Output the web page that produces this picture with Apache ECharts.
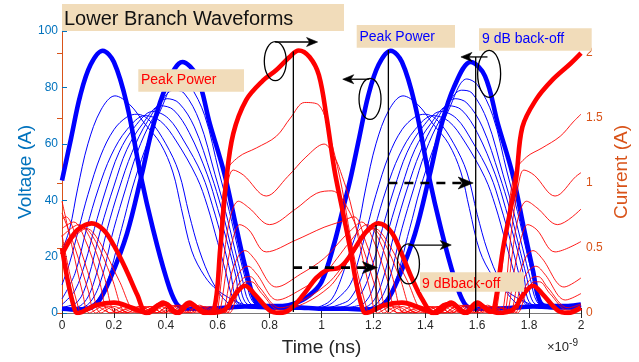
<!DOCTYPE html>
<html>
<head>
<meta charset="utf-8">
<script src="https://cdn.jsdelivr.net/npm/echarts@6/dist/echarts.min.js"></script>
<style>
  html, body { margin: 0; padding: 0; background: #ffffff; }
  #chart { width: 639px; height: 362px; }
</style>
</head>
<body>
<div id="chart"></div>
<script>
// ---- axes ---------------------------------------------------------------
// time is stored in ns; the axis carries the x10^-9 factor as a note
const timeTicks = [0, 0.2, 0.4, 0.6, 0.8, 1, 1.2, 1.4, 1.6, 1.8, 2];
const voltageTicks = [0, 20, 40, 60, 80, 100];
const currentTicks = [0, 0.5, 1, 1.5, 2];

// ---- drain voltage (left axis), [time ns, V] ------------------------------
const voltagePeak = [[0,47],[0.035,62],[0.07,77],[0.11,88],[0.157,93],[0.2,89],[0.25,74],[0.305,48],[0.35,30],[0.4,13],[0.44,3.5],[0.48,1.5],[0.55,1.5],[0.65,2],[0.75,2.5],[0.85,2.5],[0.9,3.5],[0.95,6],[1.0,11],[1.05,25],[1.08,36],[1.11,47],[1.145,62],[1.18,77],[1.22,88],[1.267,93],[1.31,89],[1.36,74],[1.415,48],[1.46,30],[1.51,13],[1.55,3.5],[1.59,1.5],[1.66,1.5],[1.76,2],[1.86,2.5],[1.95,2.5],[2.0,3]];

const voltageBackoff = [[0,1.5],[0.06,1.2],[0.1,1.5],[0.14,4],[0.185,12],[0.25,28],[0.307,49],[0.35,66],[0.4,80],[0.464,89],[0.52,84],[0.57,67],[0.627,49],[0.67,31],[0.71,15],[0.75,3.5],[0.8,2],[0.9,2],[1.0,1.5],[1.1,1.5],[1.17,1.2],[1.21,1.5],[1.25,4],[1.295,12],[1.36,28],[1.417,49],[1.46,66],[1.51,80],[1.575,89],[1.63,84],[1.68,67],[1.737,49],[1.78,30],[1.815,15],[1.845,3.5],[1.9,2],[2.0,2.5]];

// intermediate drive levels between peak power and 9 dB back-off
const voltageSweep = [
  [[0,22],[0.03,30],[0.06,44],[0.1,60],[0.15,72],[0.204,77],[0.26,74],[0.32,67],[0.38,60],[0.427,50],[0.46,37],[0.5,22],[0.55,13],[0.6,8],[0.685,3.5],[0.75,2],[0.85,1.5],[0.95,1.5],[1.0,2.5],[1.04,5],[1.075,12],[1.11,22],[1.14,30],[1.17,44],[1.21,60],[1.26,72],[1.314,77],[1.37,74],[1.43,67],[1.49,60],[1.537,50],[1.57,37],[1.61,22],[1.66,13],[1.71,8],[1.795,3.5],[1.86,2],[1.95,1.5],[2.0,1.5]],
  [[0,10],[0.03,18],[0.065,30],[0.1,42],[0.15,56],[0.2,65],[0.25,69.5],[0.29,70.5],[0.34,68],[0.4,60],[0.45,50],[0.49,35],[0.53,22],[0.58,11],[0.64,3.5],[0.7,2],[0.8,1.5],[0.95,1.5],[1.02,2.5],[1.06,5],[1.11,10],[1.14,18],[1.175,30],[1.21,42],[1.26,56],[1.31,65],[1.36,69.5],[1.4,70.5],[1.45,68],[1.51,60],[1.56,50],[1.6,35],[1.64,22],[1.69,11],[1.75,3.5],[1.81,2],[1.9,1.5],[2.0,1.5]],
  [[0,5],[0.05,14],[0.095,30],[0.14,44],[0.19,56],[0.25,65],[0.32,70],[0.38,68],[0.44,61],[0.52,48],[0.56,38],[0.6,25],[0.63,15],[0.66,5],[0.7,2],[0.8,1.5],[0.95,1.5],[1.03,2],[1.07,3],[1.11,5],[1.16,14],[1.205,30],[1.25,44],[1.3,56],[1.36,65],[1.43,70],[1.49,68],[1.55,61],[1.63,48],[1.67,38],[1.71,25],[1.74,15],[1.77,5],[1.81,2],[1.9,1.5],[2.0,1.5]],
  [[0,3],[0.05,8],[0.09,18],[0.125,30],[0.17,44],[0.22,57],[0.28,66],[0.35,71.5],[0.41,69],[0.47,61],[0.54,49],[0.58,38],[0.62,25],[0.65,14],[0.675,4],[0.72,2],[0.85,1.5],[1.0,1.5],[1.06,2],[1.11,3],[1.16,8],[1.2,18],[1.235,30],[1.28,44],[1.33,57],[1.39,66],[1.46,71.5],[1.52,69],[1.58,61],[1.65,49],[1.69,38],[1.73,25],[1.76,14],[1.785,4],[1.83,2],[1.95,1.5],[2.0,1.5]],
  [[0,2],[0.06,4],[0.1,12],[0.15,30],[0.2,45],[0.25,58],[0.31,67],[0.38,73.5],[0.43,72],[0.49,64],[0.56,49],[0.6,37],[0.64,24],[0.67,13],[0.69,4],[0.74,2],[0.9,1.5],[1.05,1.5],[1.11,2],[1.17,4],[1.21,12],[1.26,30],[1.31,45],[1.36,58],[1.42,67],[1.49,73.5],[1.54,72],[1.6,64],[1.67,49],[1.71,37],[1.75,24],[1.78,13],[1.8,4],[1.85,2],[2.0,1.5]],
  [[0,1.5],[0.07,2.5],[0.12,10],[0.175,30],[0.22,44],[0.27,57],[0.33,68],[0.405,76],[0.45,74.5],[0.51,66],[0.575,49],[0.615,37],[0.65,24],[0.68,13],[0.705,4],[0.75,2],[0.9,1.5],[1.05,1.5],[1.11,1.5],[1.18,2.5],[1.23,10],[1.285,30],[1.33,44],[1.38,57],[1.44,68],[1.515,76],[1.56,74.5],[1.62,66],[1.685,49],[1.725,37],[1.76,24],[1.79,13],[1.815,4],[1.86,2],[2.0,1.5]],
  [[0,1.5],[0.08,2],[0.14,9],[0.2,30],[0.245,44],[0.29,57],[0.35,69],[0.43,79],[0.47,78],[0.53,68],[0.59,49],[0.63,36],[0.665,23],[0.695,12],[0.72,4],[0.76,2],[0.9,1.5],[1.05,1.5],[1.11,1.5],[1.19,2],[1.25,9],[1.31,30],[1.355,44],[1.4,57],[1.46,69],[1.54,79],[1.58,78],[1.64,68],[1.7,49],[1.74,36],[1.775,23],[1.805,12],[1.83,4],[1.87,2],[2.0,1.5]],
  [[0,1.5],[0.09,2],[0.16,8],[0.23,30],[0.27,44],[0.32,58],[0.38,72],[0.45,83],[0.49,81],[0.55,70],[0.605,50],[0.645,36],[0.68,22],[0.71,11],[0.735,4],[0.78,2],[0.9,1.5],[1.05,1.5],[1.11,1.5],[1.2,2],[1.27,8],[1.34,30],[1.38,44],[1.43,58],[1.49,72],[1.56,83],[1.6,81],[1.66,70],[1.715,50],[1.755,36],[1.79,22],[1.82,11],[1.845,4],[1.89,2],[2.0,1.5]]
];

// ---- drain current (right axis), [time ns, A] -----------------------------
const currentPeak = [[0,0.5],[0.025,0.22],[0.05,0.02],[0.06,0],[0.13,0.06],[0.2,0.08],[0.27,0.04],[0.33,0],[0.39,0.08],[0.44,0],[0.49,0.08],[0.55,0],[0.585,0.02],[0.61,0.5],[0.633,1.02],[0.66,1.38],[0.71,1.64],[0.775,1.79],[0.826,1.87],[0.877,1.97],[0.912,2.02],[0.954,1.97],[0.99,1.83],[1.02,1.5],[1.05,1.1],[1.08,0.8],[1.11,0.5],[1.135,0.22],[1.16,0.02],[1.17,0],[1.24,0.06],[1.31,0.08],[1.38,0.04],[1.44,0],[1.5,0.08],[1.55,0],[1.6,0.08],[1.65,0.01],[1.665,0.03],[1.7,0.5],[1.749,1.02],[1.774,1.43],[1.826,1.64],[1.888,1.79],[1.96,1.92],[2.0,2.0]];

const currentBackoff = [[0,0.45],[0.03,0.56],[0.06,0.64],[0.114,0.69],[0.16,0.64],[0.2,0.52],[0.25,0.32],[0.29,0.14],[0.326,0],[0.37,0.06],[0.4,0.07],[0.43,0.02],[0.45,0],[0.49,0.07],[0.53,0.03],[0.57,0],[0.63,0.03],[0.67,0.15],[0.705,0.21],[0.74,0.15],[0.8,0.02],[0.84,0],[0.88,0.03],[0.93,0.14],[0.98,0.27],[1.02,0.33],[1.07,0.35],[1.11,0.44],[1.17,0.62],[1.22,0.69],[1.27,0.62],[1.31,0.45],[1.35,0.26],[1.39,0.1],[1.43,0],[1.47,0.06],[1.5,0.07],[1.54,0.02],[1.56,0],[1.6,0.07],[1.64,0.03],[1.68,0],[1.74,0.03],[1.78,0.15],[1.815,0.21],[1.85,0.15],[1.91,0.02],[1.95,0],[2.0,0.04]];

const currentSweep = [
  [[0,0.6],[0.03,0.3],[0.065,0.03],[0.075,0],[0.13,0.05],[0.19,0],[0.28,0.04],[0.34,0],[0.4,0.06],[0.45,0],[0.5,0.06],[0.555,0],[0.585,0.02],[0.6,0.35],[0.633,1.08],[0.68,1.2],[0.749,1.27],[0.826,1.36],[0.88,1.5],[0.935,1.62],[0.99,1.6],[1.04,1.3],[1.08,0.95],[1.11,0.6],[1.14,0.3],[1.175,0.03],[1.185,0],[1.24,0.05],[1.3,0],[1.39,0.04],[1.45,0],[1.51,0.06],[1.56,0],[1.61,0.06],[1.66,0],[1.675,0.02],[1.71,0.6],[1.745,1.08],[1.79,1.2],[1.85,1.27],[1.92,1.36],[1.97,1.47],[2.0,1.53]],
  [[0,0.86],[0.04,0.5],[0.08,0.15],[0.105,0],[0.16,0.05],[0.22,0],[0.3,0.05],[0.36,0],[0.42,0.06],[0.47,0],[0.52,0.05],[0.57,0],[0.59,0.02],[0.61,0.5],[0.635,0.95],[0.66,1.1],[0.7,1.06],[0.787,0.9],[0.87,1.05],[0.94,1.2],[1.01,1.3],[1.05,1.2],[1.08,1.05],[1.11,0.86],[1.15,0.5],[1.19,0.15],[1.215,0],[1.27,0.05],[1.33,0],[1.41,0.05],[1.47,0],[1.53,0.06],[1.58,0],[1.63,0.05],[1.68,0],[1.7,0.02],[1.73,0.6],[1.76,1.0],[1.78,1.1],[1.82,1.06],[1.9,0.9],[1.98,1.05],[2.0,1.08]],
  [[0,0.77],[0.05,0.5],[0.1,0.18],[0.13,0],[0.18,0.05],[0.24,0],[0.32,0.05],[0.37,0],[0.44,0.06],[0.49,0],[0.54,0.05],[0.59,0],[0.6,0.02],[0.625,0.45],[0.65,0.75],[0.68,0.86],[0.72,0.81],[0.8,0.68],[0.9,0.8],[0.98,0.92],[1.04,0.94],[1.11,0.77],[1.16,0.5],[1.21,0.18],[1.24,0],[1.29,0.05],[1.35,0],[1.43,0.05],[1.48,0],[1.55,0.06],[1.6,0],[1.65,0.05],[1.7,0],[1.71,0.02],[1.735,0.45],[1.76,0.75],[1.79,0.86],[1.83,0.81],[1.91,0.68],[2.0,0.8]],
  [[0,0.72],[0.015,0.74],[0.06,0.55],[0.11,0.25],[0.15,0],[0.2,0.05],[0.26,0],[0.34,0.05],[0.39,0],[0.45,0.06],[0.5,0],[0.55,0.05],[0.6,0],[0.61,0.02],[0.635,0.35],[0.66,0.58],[0.685,0.68],[0.72,0.64],[0.787,0.47],[0.9,0.56],[1.01,0.66],[1.07,0.7],[1.125,0.74],[1.17,0.55],[1.22,0.25],[1.26,0],[1.31,0.05],[1.37,0],[1.45,0.05],[1.5,0],[1.56,0.06],[1.61,0],[1.66,0.05],[1.71,0],[1.72,0.02],[1.745,0.35],[1.77,0.58],[1.795,0.68],[1.83,0.64],[1.9,0.47],[2.0,0.55]],
  [[0,0.65],[0.045,0.7],[0.09,0.56],[0.14,0.28],[0.185,0],[0.24,0.05],[0.3,0],[0.36,0.05],[0.41,0],[0.47,0.06],[0.52,0],[0.57,0.05],[0.615,0],[0.625,0.02],[0.65,0.28],[0.68,0.44],[0.705,0.48],[0.74,0.42],[0.826,0.2],[0.92,0.3],[1.01,0.42],[1.08,0.57],[1.11,0.63],[1.155,0.7],[1.2,0.56],[1.25,0.28],[1.295,0],[1.35,0.05],[1.41,0],[1.47,0.05],[1.52,0],[1.58,0.06],[1.63,0],[1.68,0.05],[1.725,0],[1.735,0.02],[1.76,0.28],[1.79,0.44],[1.815,0.48],[1.85,0.42],[1.935,0.2],[2.0,0.27]],
  [[0,0.59],[0.065,0.68],[0.11,0.57],[0.16,0.3],[0.21,0],[0.27,0.05],[0.33,0],[0.38,0.05],[0.43,0],[0.49,0.06],[0.54,0],[0.58,0.04],[0.625,0],[0.635,0.02],[0.66,0.22],[0.69,0.33],[0.716,0.36],[0.75,0.3],[0.83,0.1],[0.92,0.18],[1.01,0.3],[1.06,0.42],[1.11,0.55],[1.175,0.68],[1.22,0.57],[1.27,0.3],[1.32,0],[1.38,0.05],[1.44,0],[1.49,0.05],[1.54,0],[1.6,0.06],[1.65,0],[1.69,0.04],[1.735,0],[1.745,0.02],[1.77,0.22],[1.8,0.33],[1.826,0.36],[1.86,0.3],[1.94,0.1],[2.0,0.15]],
  [[0,0.51],[0.08,0.66],[0.13,0.55],[0.19,0.28],[0.25,0],[0.3,0.05],[0.36,0],[0.41,0.05],[0.45,0],[0.5,0.06],[0.55,0],[0.59,0.04],[0.635,0],[0.645,0.02],[0.67,0.18],[0.7,0.27],[0.725,0.28],[0.76,0.2],[0.84,0.04],[0.93,0.1],[1.02,0.22],[1.07,0.33],[1.11,0.45],[1.19,0.66],[1.24,0.55],[1.3,0.28],[1.36,0],[1.41,0.05],[1.47,0],[1.52,0.05],[1.56,0],[1.61,0.06],[1.66,0],[1.7,0.04],[1.745,0],[1.755,0.02],[1.78,0.18],[1.81,0.27],[1.835,0.28],[1.87,0.2],[1.95,0.04],[2.0,0.07]],
  [[0,0.46],[0.095,0.65],[0.15,0.53],[0.22,0.25],[0.29,0],[0.34,0.05],[0.39,0],[0.44,0.05],[0.48,0],[0.53,0.06],[0.58,0],[0.62,0.03],[0.645,0],[0.655,0.02],[0.68,0.16],[0.71,0.24],[0.73,0.24],[0.77,0.15],[0.84,0.02],[0.94,0.08],[1.03,0.2],[1.07,0.3],[1.11,0.42],[1.205,0.65],[1.26,0.53],[1.33,0.25],[1.4,0],[1.45,0.05],[1.5,0],[1.55,0.05],[1.59,0],[1.64,0.06],[1.69,0],[1.73,0.03],[1.755,0],[1.765,0.02],[1.79,0.16],[1.82,0.24],[1.84,0.24],[1.88,0.15],[1.95,0.02],[2.0,0.06]]
];

// ---- annotation geometry (time ns, voltage-axis units) ---------------------
const markerLines = [[0.8915, 92.7], [1.2104, 31.2], [1.2577, 93.3], [1.5942, 90.8]];
const callouts = [
  { centre: [0.822, 89.3], rx: 11, ry: 19.5, from: [0.8215, 96.1], to: [0.985, 96.1] },
  { centre: [1.187, 75.9], rx: 11, ry: 20.5, from: [1.1846, 82.9], to: [1.0819, 82.9] },
  { centre: [1.646, 84.8], rx: 11.5, ry: 23.5, from: [1.6396, 90.8], to: [1.5373, 90.8] },
  { centre: [1.335, 17.4], rx: 11, ry: 20, from: [1.3346, 24.1], to: [1.5, 24.1] }
];
const shiftArrows = [
  { from: [0.8904, 16.1], to: [1.2154, 16.1] },
  { from: [1.2577, 46.1], to: [1.5846, 46.1] }
];

const FONT = '"Liberation Sans", Arial, Helvetica, sans-serif';
const BLUE_AXIS = '#0072BD';
const ORANGE_AXIS = '#D95319';
const BOX = '#F1DCBA';

const chart = echarts.init(document.getElementById('chart'), null, { renderer: 'canvas' });

function lineSeries(name, data, yIndex, color, width, z) {
  return {
    name, type: 'line', data, xAxisIndex: 0, yAxisIndex: yIndex,
    showSymbol: false, symbol: 'none', smooth: 0.35, silent: true,
    lineStyle: { color, width }, z, clip: true,
    emphasis: { disabled: true }
  };
}

const series = [];
voltageSweep.forEach((d, i) => series.push(lineSeries('voltage level ' + (i + 1), d, 0, '#0000FF', 1, 2)));
series.push(lineSeries('voltage peak', voltagePeak, 0, '#0000FF', 4.6, 3));
series.push(lineSeries('voltage 9 dB', voltageBackoff, 0, '#0000FF', 4.6, 3));
currentSweep.forEach((d, i) => series.push(lineSeries('current level ' + (i + 1), d, 1, '#FF0000', 0.9, 4)));
series.push(lineSeries('current peak', currentPeak, 1, '#FF0000', 4.6, 5));
series.push(lineSeries('current 9 dB', currentBackoff, 1, '#FF0000', 4.6, 5));

const tickFmt = v => String(Math.round(v * 10) / 10);

chart.setOption({
  animation: false,
  backgroundColor: '#ffffff',
  textStyle: { fontFamily: FONT },
  grid: { left: 62, right: 57, top: 31, bottom: 49, containLabel: false },
  xAxis: [
    {
      type: 'value', min: 0, max: 2, interval: 0.2, position: 'bottom',
      axisLine: { show: true, lineStyle: { color: '#7a7a7a', width: 1 } },
      axisTick: { show: true, inside: true, length: 5, lineStyle: { color: '#262626' } },
      axisLabel: { color: '#262626', fontSize: 12, margin: 7, formatter: tickFmt, fontFamily: FONT },
      splitLine: { show: false },
      name: 'Time (ns)', nameLocation: 'middle', nameGap: 25, nameMoveOverlap: false,
      nameTextStyle: { fontSize: 19, color: '#262626', fontFamily: FONT }
    },
    {
      type: 'value', min: 0, max: 2, interval: 0.2, position: 'top',
      axisLine: { show: true, lineStyle: { color: '#7a7a7a', width: 1 } },
      axisTick: { show: true, inside: true, length: 5, lineStyle: { color: '#262626' } },
      axisLabel: { show: false }, splitLine: { show: false }
    }
  ],
  yAxis: [
    {
      type: 'value', min: 0, max: 100, interval: 20, position: 'left',
      axisLine: { show: true, lineStyle: { color: BLUE_AXIS, width: 1 } },
      axisTick: { show: true, inside: true, length: 5, lineStyle: { color: BLUE_AXIS } },
      axisLabel: { color: BLUE_AXIS, fontSize: 12, margin: 4, fontFamily: FONT },
      splitLine: { show: false },
      name: 'Voltage (A)', nameLocation: 'middle', nameGap: 27, nameRotate: 90, nameMoveOverlap: false,
      nameTextStyle: { fontSize: 19, color: BLUE_AXIS, fontFamily: FONT }
    },
    {
      type: 'value', min: 0, max: 2.17, position: 'right',
      axisLine: { show: true, lineStyle: { color: ORANGE_AXIS, width: 1 } },
      axisTick: { show: true, inside: true, length: 5, customValues: currentTicks, lineStyle: { color: ORANGE_AXIS } },
      axisLabel: { color: ORANGE_AXIS, fontSize: 12, margin: 5, customValues: currentTicks, fontFamily: FONT },
      splitLine: { show: false },
      name: 'Current (A)', nameLocation: 'middle', nameGap: 31, nameRotate: 90, nameMoveOverlap: false,
      nameTextStyle: { fontSize: 19, color: ORANGE_AXIS, fontFamily: FONT }
    }
  ],
  series
});

// ---- annotations: boxes, markers, ellipses, arrows -------------------------
function px(p) { return chart.convertToPixel({ xAxisIndex: 0, yAxisIndex: 0 }, p); }

function head(tip, dir, len, half) {
  const [x, y] = tip;
  return {
    type: 'polygon', silent: true, z: 120,
    shape: { points: [[x, y], [x - dir * len, y - half], [x - dir * len * 0.72, y], [x - dir * len, y + half]] },
    style: { fill: '#000000', stroke: '#000000', lineWidth: 0.6 }
  };
}

function textBox(x, y, w, h, text, color, size, tx, ty) {
  return [
    { type: 'rect', silent: true, z: 110, shape: { x, y, width: w, height: h }, style: { fill: BOX } },
    { type: 'text', silent: true, z: 111, x: tx, y: ty,
      style: { text, fill: color, fontSize: size, fontFamily: FONT, verticalAlign: 'middle', align: 'left' } }
  ];
}

const g = [];
const [, yBase] = px([0, 0.35]);

markerLines.forEach(([t, top]) => {
  const [x, y] = px([t, top]);
  g.push({ type: 'line', silent: true, z: 115, shape: { x1: x, y1: y, x2: x, y2: yBase }, style: { stroke: '#000', lineWidth: 1.3 } });
});

callouts.forEach(c => {
  const [cx, cy] = px(c.centre);
  g.push({ type: 'ellipse', silent: true, z: 115, shape: { cx, cy, rx: c.rx, ry: c.ry }, style: { fill: 'none', stroke: '#000', lineWidth: 1.3 } });
  const a = px(c.from), b = px(c.to);
  const dir = b[0] > a[0] ? 1 : -1;
  g.push({ type: 'line', silent: true, z: 115, shape: { x1: a[0], y1: a[1], x2: b[0] - dir * 6, y2: b[1] }, style: { stroke: '#000', lineWidth: 1.3 } });
  g.push(head(b, dir, 11, 4.5));
});

shiftArrows.forEach(s => {
  const a = px(s.from), b = px(s.to);
  g.push({ type: 'line', silent: true, z: 115, shape: { x1: a[0], y1: a[1], x2: b[0] - 10, y2: b[1] }, style: { stroke: '#000', lineWidth: 2.6, lineDash: [9, 7] } });
  g.push(head(b, 1, 15, 6));
});

g.push(...textBox(62, 4, 282, 27, 'Lower Branch Waveforms', '#111111', 20, 64, 19.5));
g.push(...textBox(138.3, 69.3, 105.7, 22.4, 'Peak Power', '#FF0000', 14, 141, 80.5));
g.push(...textBox(356.7, 25, 98.3, 22.7, 'Peak Power', '#0000FF', 14, 359.5, 36.8));
g.push(...textBox(479, 28.3, 112.7, 22.4, '9 dB back-off', '#0000FF', 14, 482, 39));
g.push(...textBox(420, 272.3, 104, 19.5, '9 dBback-off', '#FF0000', 14, 422, 284));

g.push({
  type: 'text', silent: true, z: 111, x: 547, y: 347,
  style: {
    text: '{a|\u00d710}{b|-9}', fontFamily: FONT, verticalAlign: 'middle',
    rich: { a: { fontSize: 13, fill: '#262626', fontFamily: FONT }, b: { fontSize: 10, fill: '#262626', verticalAlign: 'top', padding: [0, 0, 8, 0], fontFamily: FONT } }
  }
});

chart.setOption({ graphic: { elements: g } });
</script>
</body>
</html>
